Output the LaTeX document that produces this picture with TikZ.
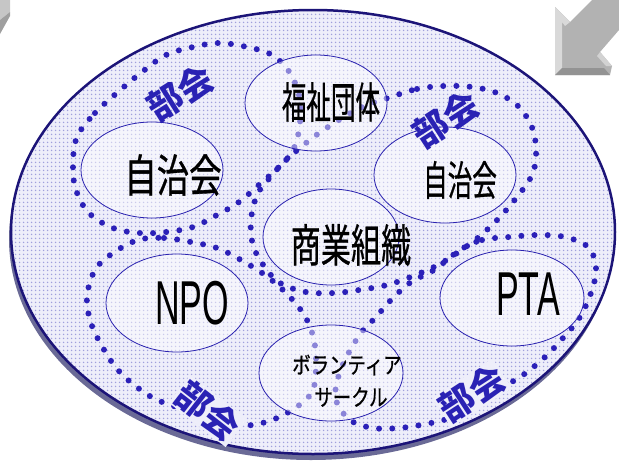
\documentclass[tikz,border=0pt]{standalone}
\usepackage{fontspec}
\setmainfont{Liberation Sans}
\newfontfamily\jp{Noto Sans CJK JP}
\newfontfamily\jpheavy[FakeBold=0.8]{Noto Sans CJK JP}
\usetikzlibrary{patterns.meta}
\definecolor{navy}{HTML}{1C1478}
\definecolor{shadowc}{HTML}{6A6A96}
\definecolor{bgc}{HTML}{EEEEFA}
\definecolor{bgdot}{HTML}{A0A0DC}
\definecolor{dotc}{HTML}{2B20B8}
\definecolor{ringc}{HTML}{2A22B0}
\definecolor{labc}{HTML}{2A22B4}
\tikzset{
  loopline/.style={draw=dotc, line width=6pt, line cap=round, dash pattern=on 0pt off 13.2pt},
  ring/.style={draw=ringc, line width=0.8pt, fill=white, fill opacity=0.45},
  jptext/.style={inner sep=0pt, font=\jpheavy\fontsize{#1}{#1}\selectfont},
  latin/.style={inner sep=0pt, font=\fontsize{62}{62}\selectfont, xscale=0.55},
  bukai/.style={inner sep=1pt, font=\jp\bfseries\fontsize{35}{35}\selectfont, text=labc},
}
\begin{document}
\begin{tikzpicture}[x=1pt,y=-1pt]
\useasboundingbox (0,0) rectangle (619,461);
% corner arrows
\fill[gray!45] (0,0) -- (10,0) -- (10,12) -- (0,20) -- cycle;
\fill[gray!75] (0,20) -- (10,12) -- (10,16) -- (0,34) -- cycle;
\fill[gray!60] (555,7) -- (570,22) -- (592,0) -- (619,0) -- (619,30) -- (600,52) -- (612,66) -- (610,75) -- (555,75) -- cycle;
\fill[gray!30] (555,7) -- (570,22) -- (565,26) -- (562,22) -- (562,68) -- (555,75) -- cycle;
\fill[gray!85] (555,75) -- (562,68) -- (604,68) -- (610,75) -- cycle;
\fill[gray!35] (600,52) -- (612,66) -- (606,66) -- (597,56) -- cycle;
% big ellipse
\fill[shadowc] (311,239) ellipse [x radius=302pt, y radius=221pt];
\fill[bgc] (313,232) ellipse [x radius=302pt, y radius=222pt];
\fill[pattern={Dots[radius=0.95pt,distance=4pt]}, pattern color=bgdot] (313,232) ellipse [x radius=302pt, y radius=222pt];
\draw[navy, line width=2.5pt] (313,232) ellipse [x radius=302pt, y radius=222pt];
% dotted loops
\draw[loopline] plot[smooth cycle, tension=0.6] coordinates {(77,137) (95,113) (118,92) (142,72) (166,55) (193,47) (219,43) (247,47) (272,55) (290,73) (300,100) (299,130) (292,152) (278,168) (261,183) (239,202) (217,215) (193,227) (166,232) (140,233) (113,228) (89,213) (76,190) (73,165)};
\draw[loopline] plot[smooth cycle, tension=0.6] coordinates {(391,97) (417,89) (444,86) (472,87) (497,93) (519,107) (533,130) (536,157) (531,177) (517,197) (499,218) (480,236) (460,251) (438,265) (413,276) (387,285) (359,290) (334,293) (306,292) (280,283) (264,266) (253,245) (251,220) (257,195) (268,180) (284,162) (306,143) (328,127) (360,108)};
\draw[loopline] plot[smooth cycle, tension=0.6] coordinates {(138,240) (164,238) (191,242) (217,248) (241,260) (265,275) (283,290) (297,305) (307,320) (314,340) (316,365) (312,392) (292,410) (266,422) (240,425) (205,415) (162,402) (138,388) (118,370) (103,348) (91,323) (87,297) (95,270) (113,253)};
\draw[loopline] plot[smooth cycle, tension=0.6] coordinates {(460,250) (482,240) (509,237) (537,235) (565,237) (588,247) (596,267) (592,290) (580,317) (563,338) (545,357) (523,375) (498,390) (470,408) (450,418) (426,424) (399,428) (373,428) (350,420) (336,400) (338,378) (347,356) (361,333) (376,317) (391,300) (411,282) (434,270)};
% inner ellipses
\path[ring] (152,170) ellipse [x radius=71pt, y radius=48pt];
\path[ring] (316,103) ellipse [x radius=71pt, y radius=48pt];
\path[ring] (445,175) ellipse [x radius=71pt, y radius=48pt];
\path[ring] (331,237) ellipse [x radius=68pt, y radius=48pt];
\path[ring] (177,303) ellipse [x radius=71pt, y radius=49pt];
\path[ring] (512,298) ellipse [x radius=72pt, y radius=48pt];
\path[ring] (331,373) ellipse [x radius=72pt, y radius=48pt];
% texts
\node[jptext=45, xscale=0.72] (jL) at (173,175) {自治会};
\node[jptext=43, xscale=0.57] (fuku) at (331,102) {福祉団体};
\node[jptext=41, xscale=0.6] (jR) at (460,180) {自治会};
\node[jptext=45, xscale=0.67] (shou) at (351,245) {商業組織};
\node[latin] (npo) at (192,303) {NPO};
\node[latin] (pta) at (528,294) {PTA};
\node[jptext=23, xscale=0.8] (vol1) at (347,365) {ボランティア};
\node[jptext=23, xscale=0.8] (vol2) at (351,397) {サークル};
% bukai labels
\node[bukai, rotate=32] (b1) at (180,93) {部会};
\node[bukai, rotate=33] (b2) at (446,119) {部会};
\node[bukai, rotate=-38, fill=bgc] (b3) at (208,411) {部会};
\node[bukai, rotate=33, fill=bgc] (b4) at (472,393) {部会};
\end{tikzpicture}
\end{document}
